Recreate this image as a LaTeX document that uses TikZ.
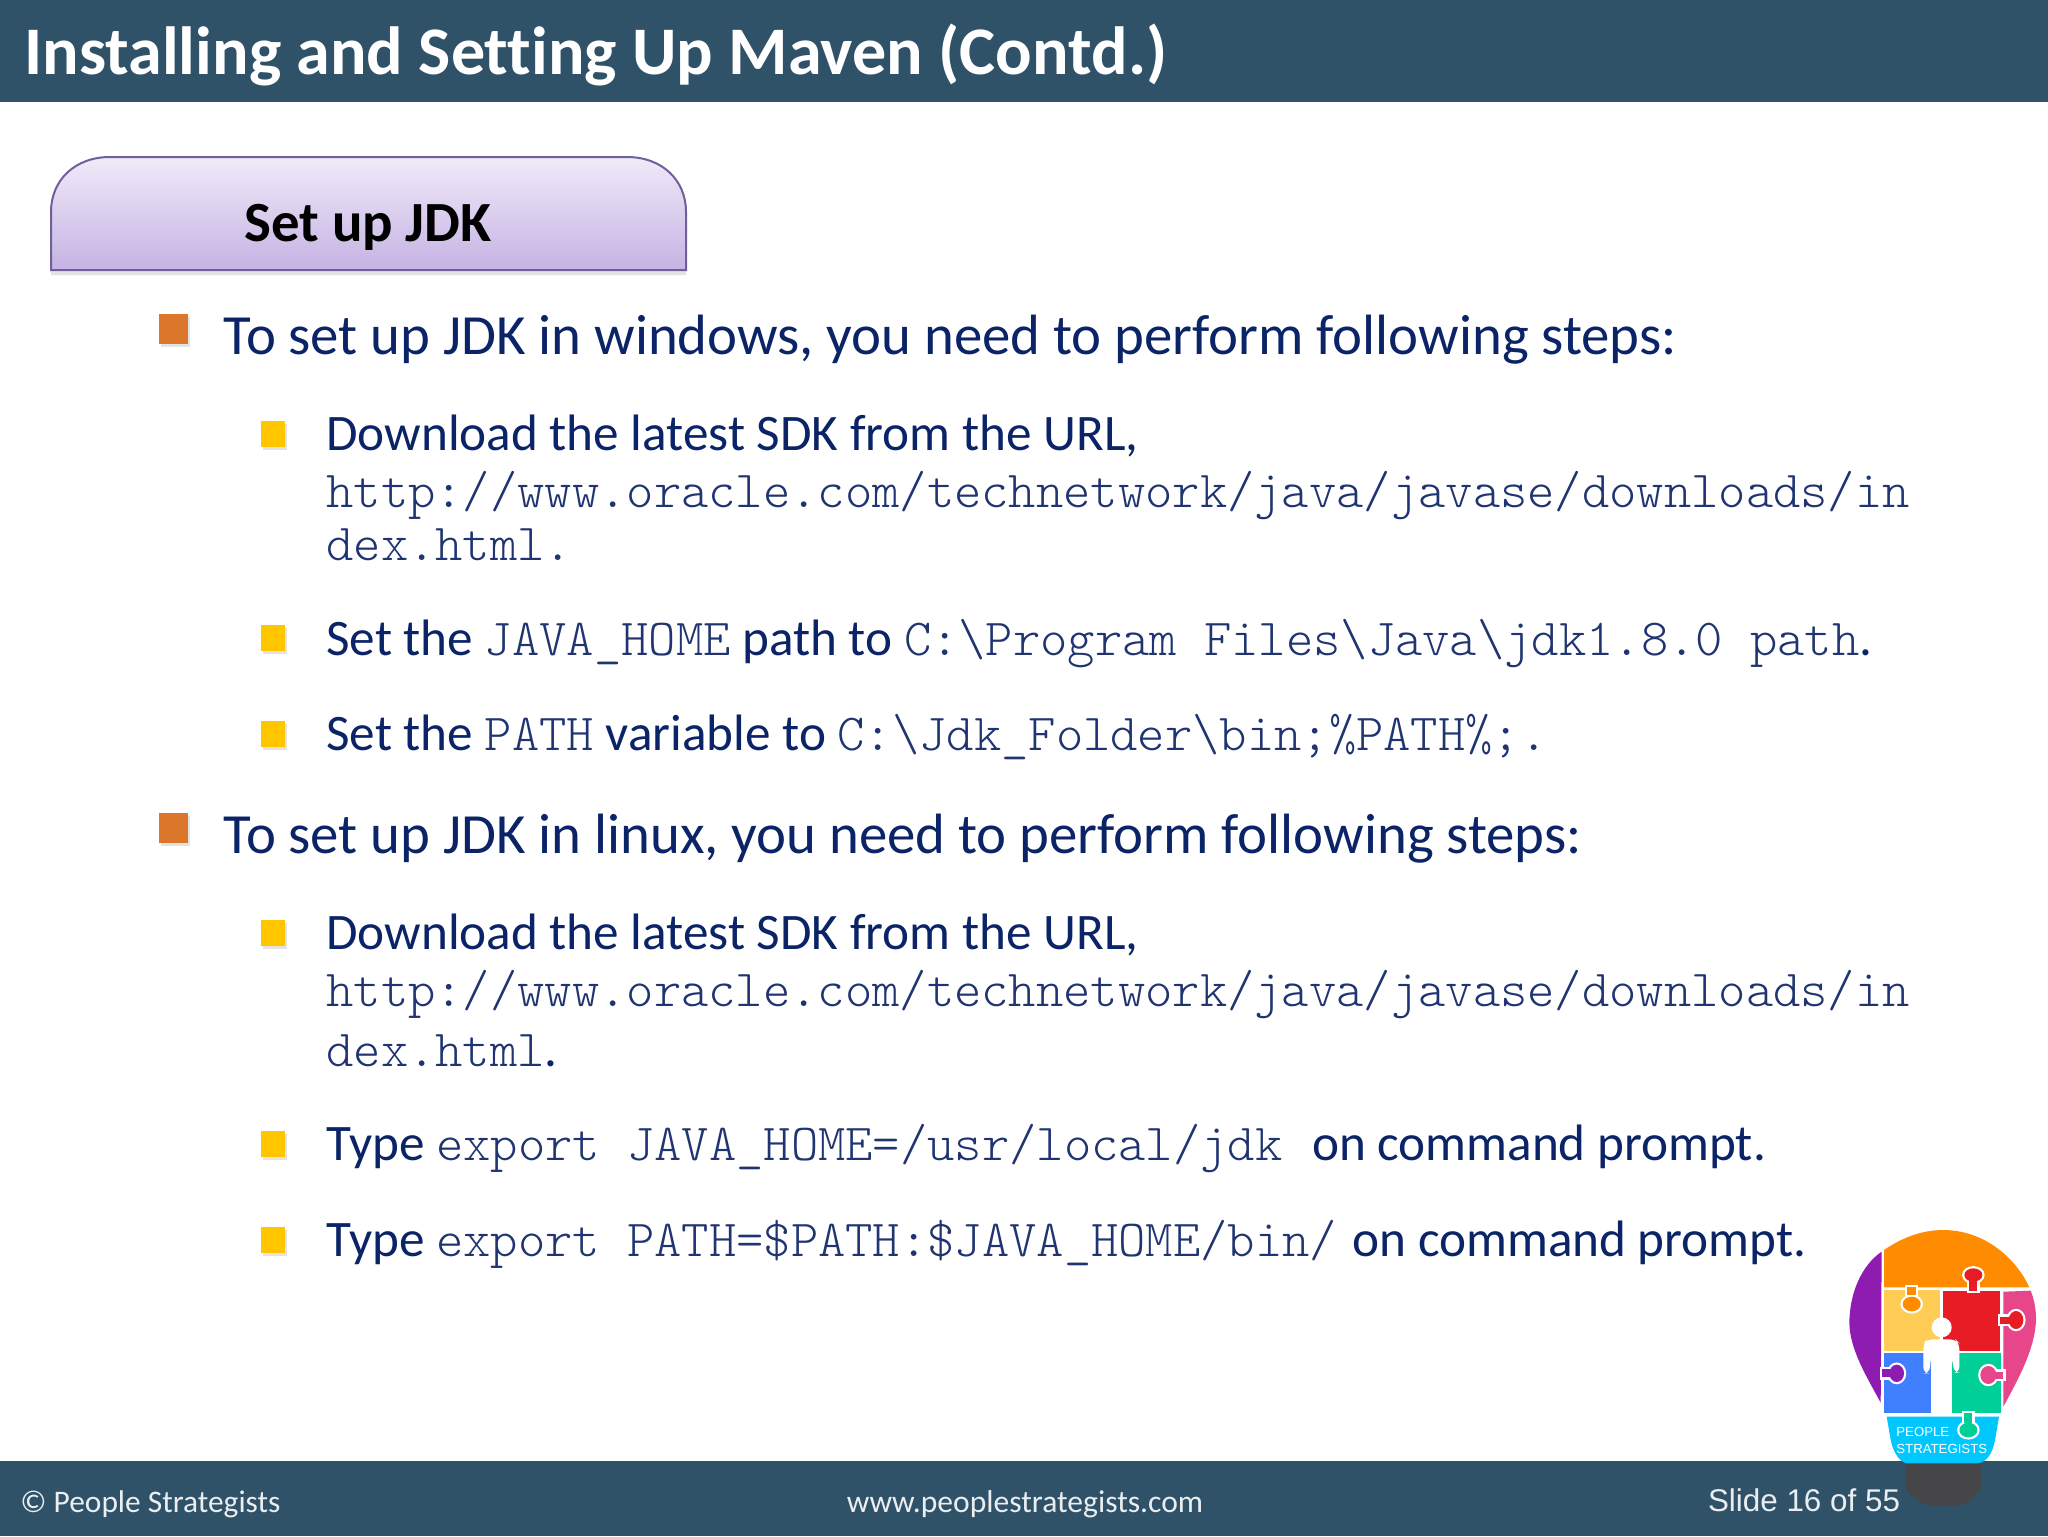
\documentclass[tikz,border=0pt]{standalone}
\usepackage{fontspec}
\setmainfont[Ligatures=NoCommon]{Carlito}
\setmonofont{Latin Modern Mono Light}
\newfontfamily\footfont{Liberation Sans}
\usetikzlibrary{shadows}
\definecolor{barblue}{HTML}{2F5269}
\definecolor{bodyblue}{HTML}{0B2468}
\definecolor{monoblue}{HTML}{1F3470}
\definecolor{tabtop}{HTML}{F0EAF9}
\definecolor{tabbot}{HTML}{C5B3E3}
\definecolor{tabline}{HTML}{6F5F9C}
\definecolor{bulorange}{HTML}{DC762A}
\definecolor{bulyellow}{HTML}{FFC600}
\definecolor{bulbbase}{HTML}{464648}
\definecolor{bulborange}{HTML}{FF8C00}
\definecolor{bulbpurple}{HTML}{8E1CB0}
\definecolor{bulbyellow}{HTML}{FFCC55}
\definecolor{bulbred}{HTML}{E81C24}
\definecolor{bulbpink}{HTML}{E8468A}
\definecolor{bulbblue}{HTML}{4080FF}
\definecolor{bulbgreen}{HTML}{00D098}
\definecolor{bulbcyan}{HTML}{00C8FF}
\newcommand{\mn}[1]{{\fontsize{26pt}{28pt}\selectfont\color{monoblue}\ttfamily #1}}
\newcommand{\knob}[9]{%
  \draw [white,line width=2.2pt] (#2,#3) ellipse [x radius=#4,y radius=#5];
  \draw [white,line width=2.2pt] (#6,#7) rectangle (#8,#9);
  \fill [#1] (#2,#3) ellipse [x radius=#4,y radius=#5];
  \fill [#1] (#6,#7) rectangle (#8,#9);}
\tikzset{
  lonebody/.style={inner sep=0pt,anchor=base west,text=bodyblue,font=\fontsize{28.4pt}{30pt}\selectfont},
  subbody/.style={inner sep=0pt,anchor=base west,text=bodyblue,font=\fontsize{25.6pt}{28pt}\selectfont},
  monoline/.style={inner sep=0pt,anchor=base west},
  footlabel/.style={inner sep=0pt,anchor=base,text=white!90!barblue},
  bigbullet/.style={fill=bulorange,drop shadow={opacity=0.22,shadow xshift=1.2pt,shadow yshift=-1.5pt}},
  smallbullet/.style={fill=bulyellow,drop shadow={opacity=0.22,shadow xshift=1.2pt,shadow yshift=-1.5pt}},
  logotext/.style={inner sep=0pt,anchor=base west,text=white,font=\footfont\fontsize{6.6pt}{8pt}\selectfont}
}
\begin{document}
\begin{tikzpicture}[x=0.5pt,y=-0.5pt]
    \useasboundingbox (0,0) rectangle (2048,1536);
    \fill [white] (0,0) rectangle (2048,1536);
    % bars
    \fill [barblue] (0,0) rectangle (2048,102);
    \fill [barblue] (0,1461) rectangle (2048,1536);
    \node [inner sep=0pt,anchor=base west,text=white,font=\fontsize{34.05pt}{36pt}\selectfont\bfseries] (title) at (24,75) {Installing and Setting Up Maven (Contd.)};
    % tab
    \path [draw=tabline,line width=1pt,top color=tabtop,bottom color=tabbot,drop shadow={opacity=0.22,shadow xshift=0pt,shadow yshift=-2.5pt}]
      (51,270) -- (51,212) .. controls (51,180) and (75,157) .. (110,157) -- (627,157) .. controls (662,157) and (686,180) .. (686,212) -- (686,270) -- cycle;
    \node [inner sep=0pt,anchor=base,text=black,font=\fontsize{28.4pt}{30pt}\selectfont\bfseries] (tabtext) at (368,241) {Set up JDK};
    % bullets
    \foreach \y in {329,828}
      \path [bigbullet] (159,\y-15) rectangle (188,\y+15);
    \foreach \y in {434,638,734,933,1144,1240}
      \path [smallbullet] (261,\y-13) rectangle (285,\y+13);
    % windows
    \node [lonebody] (winhead) at (223,354) {To set up JDK in windows, you need to perform following steps:};
    \node [subbody] (winurl) at (326,450) {Download the latest SDK from the URL,};
    \node [monoline] (winlinka) at (326,507) {\mn{http://www.oracle.com/technetwork/java/javase/downloads/in}};
    \node [monoline] (winlinkb) at (326,560) {\mn{dex.html.}};
    \node [subbody] (winhome) at (326,655) {Set the \mn{JAVA\_HOME} path to \mn{C:\textbackslash Program Files\textbackslash Java\textbackslash jdk1.8.0 path}.};
    \node [subbody] (winpath) at (326,750) {Set the \mn{PATH} variable to \mn{C:\textbackslash Jdk\_Folder\textbackslash bin;\%PATH\%;.}};
    % linux
    \node [lonebody] (linhead) at (223,853) {To set up JDK in linux, you need to perform following steps:};
    \node [subbody] (linurl) at (326,949) {Download the latest SDK from the URL,};
    \node [monoline] (linlinka) at (326,1006) {\mn{http://www.oracle.com/technetwork/java/javase/downloads/in}};
    \node [subbody] (linlinkb) at (326,1066) {\mn{dex.html}.};
    \node [subbody] (linhome) at (326,1160) {Type \mn{export JAVA\_HOME=/usr/local/jdk}\hspace{9pt} on command prompt.};
    \node [subbody] (linpath) at (326,1256) {Type \mn{export PATH=\$PATH:\$JAVA\_HOME/bin/}\hspace{2pt} on command prompt.};
    % footer
    \node [footlabel,anchor=base west,font=\fontsize{15.7pt}{18pt}\selectfont] (copyr) at (20,1512) {© People Strategists};
    \node [footlabel,font=\fontsize{15.8pt}{18pt}\selectfont] (site) at (1025,1512) {www.peoplestrategists.com};
    \node [footlabel,font=\footfont\fontsize{15.7pt}{18pt}\selectfont] (slideno) at (1804,1511) {Slide 16 of 55};
    % bulb
    \begin{scope}[shift={(1800,1200)},x=0.16667pt,y=-0.16667pt]
      \fill [bulbbase] (315,785) -- (545,785) -- (545,860) .. controls (530,890) and (500,915) .. (480,915) -- (385,915) .. controls (355,905) and (325,885) .. (315,860) -- cycle;
      \fill [bulborange] (252,150) .. controls (310,110) and (370,90) .. (430,90) .. controls (540,90) and (640,160) .. (688,262) -- (252,262) -- cycle;
      \fill [bulbpurple] (245,155) .. controls (185,195) and (148,280) .. (148,370) .. controls (150,450) and (200,530) .. (242,608) -- cycle;
      \fill [bulbpink] (610,275) -- (692,272) .. controls (705,305) and (708,335) .. (708,360) .. controls (705,450) and (650,545) .. (610,620) -- cycle;
      \fill [bulbyellow] (252,270) rectangle (420,452);
      \fill [bulbred] (430,272) rectangle (600,452);
      \fill [bulbblue] (252,460) rectangle (392,640);
      \fill [bulbgreen] (455,460) rectangle (602,640);
      \fill [bulbcyan] (260,650) -- (597,650) -- (585,720) .. controls (578,760) and (560,788) .. (530,790) -- (320,790) .. controls (295,785) and (278,750) .. (272,720) -- cycle;
      \knob{bulborange}{335}{312}{27}{22}{322}{262}{348}{285}
      \knob{bulbred}{520}{225}{27}{20}{508}{240}{532}{272}
      \knob{bulbred}{648}{360}{22}{27}{600}{350}{630}{372}
      \knob{bulbpurple}{290}{520}{22}{26}{245}{508}{270}{532}
      \knob{bulbpink}{565}{525}{24}{27}{580}{515}{610}{537}
      \knob{bulbgreen}{505}{690}{27}{22}{493}{640}{517}{670}
      % person
      \fill [white] (425,382) circle (30);
      \fill [white, rounded corners=3pt] (370,520) -- (370,430) -- (382,418) -- (466,418) -- (478,430) -- (478,518) -- (462,518) -- (456,470) -- (455,640) -- (395,640) -- (393,470) -- (388,520) -- cycle;
      \node [logotext] (logoa) at (288,708) {PEOPLE};
      \node [logotext] (logob) at (288,760) {STRATEGISTS};
    \end{scope}
\end{tikzpicture}
\end{document}
